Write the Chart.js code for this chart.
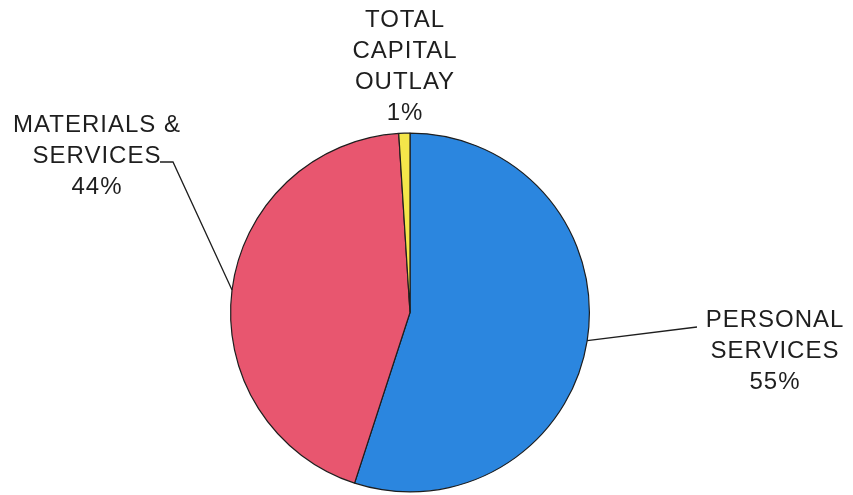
<!DOCTYPE html>
<html>
<head>
<meta charset="utf-8">
<script src="https://cdn.jsdelivr.net/npm/chart.js@4.4.1/dist/chart.umd.min.js"></script>
<style>
  html, body { margin: 0; padding: 0; background: #fff; }
  #wrap { width: 853px; height: 495px; position: relative; }
</style>
</head>
<body>
<div id="wrap"><canvas id="budgetPie"></canvas></div>
<script>
// budget split by category
const categories = ['PERSONAL SERVICES', 'MATERIALS & SERVICES', 'TOTAL CAPITAL OUTLAY'];
const shares = [55, 44, 1];
const sliceColors = ['#2b86df', '#e8566f', '#f4e64a'];

// label text lines and where each block is centred
const labelLines = [
  ['PERSONAL', 'SERVICES', '55%'],
  ['MATERIALS &', 'SERVICES', '44%'],
  ['TOTAL', 'CAPITAL', 'OUTLAY', '1%']
];
const labelAnchors = [
  { x: 775, y: 320 },
  { x: 97, y: 125 },
  { x: 405, y: 20 }
];
// leader line bend points (after leaving the slice edge)
const leaderPaths = [
  [{ x: 697, y: 327 }],
  [{ x: 173, y: 162 }, { x: 160, y: 162 }],
  null
];

const calloutPlugin = {
  id: 'callouts',
  afterDatasetsDraw(chart) {
    const ctx = chart.ctx;
    const meta = chart.getDatasetMeta(0);
    ctx.save();
    ctx.strokeStyle = '#1e1e1e';
    ctx.lineWidth = 1.3;
    meta.data.forEach(function(arc, i) {
      const path = leaderPaths[i];
      if (!path) return;
      const mid = (arc.startAngle + arc.endAngle) / 2;
      ctx.beginPath();
      ctx.moveTo(arc.x + Math.cos(mid) * arc.outerRadius, arc.y + Math.sin(mid) * arc.outerRadius);
      path.forEach(function(p) { ctx.lineTo(p.x, p.y); });
      ctx.stroke();
    });

    ctx.fillStyle = '#1e1e1e';
    ctx.font = '24px "Liberation Sans", Arial, sans-serif';
    ctx.letterSpacing = '1px';
    ctx.textAlign = 'center';
    ctx.textBaseline = 'middle';
    labelLines.forEach(function(lines, i) {
      const a = labelAnchors[i];
      lines.forEach(function(line, k) {
        ctx.fillText(line, a.x, a.y + k * 31);
      });
    });
    ctx.restore();
  }
};

new Chart(document.getElementById('budgetPie'), {
  type: 'pie',
  data: {
    labels: categories,
    datasets: [{
      data: shares,
      backgroundColor: sliceColors,
      borderColor: '#1e1e1e',
      borderWidth: 1.2
    }]
  },
  options: {
    responsive: true,
    maintainAspectRatio: false,
    animation: false,
    layout: {
      padding: { left: 230, right: 263, top: 132, bottom: 2 }
    },
    plugins: {
      legend: { display: false },
      tooltip: { enabled: false }
    }
  },
  plugins: [calloutPlugin]
});
</script>
</body>
</html>
